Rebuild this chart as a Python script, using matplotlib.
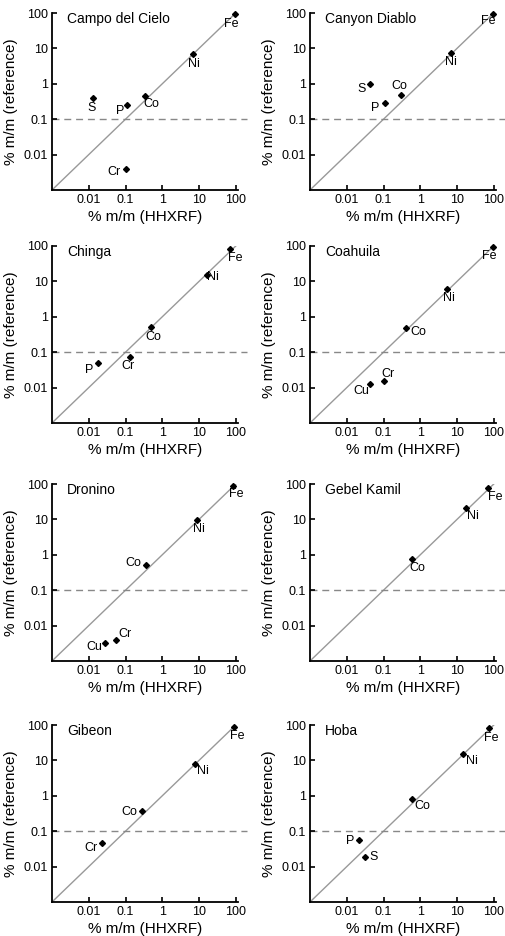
import numpy as np
import matplotlib.pyplot as plt

plt.rcParams['font.family'] = ['Liberation Sans', 'DejaVu Sans']

# meteorite names, in panel order (left to right, top to bottom)
names = ["Campo del Cielo", "Canyon Diablo", "Chinga", "Coahuila",
         "Dronino", "Gebel Kamil", "Gibeon", "Hoba"]

# elements, HHXRF values (x) and reference values (y), % m/m
campo_el = ["Fe", "Ni", "Co", "P", "S", "Cr"]
campo_x = [95, 7.0, 0.33, 0.11, 0.013, 0.10]
campo_y = [93, 7.0, 0.45, 0.26, 0.40, 0.0038]

canyon_el = ["Fe", "Ni", "Co", "P", "S"]
canyon_x = [93, 6.8, 0.30, 0.113, 0.043]
canyon_y = [93, 7.5, 0.47, 0.28, 1.0]

chinga_el = ["Fe", "Ni", "Co", "Cr", "P"]
chinga_x = [70, 17, 0.50, 0.13, 0.018]
chinga_y = [80, 15, 0.52, 0.075, 0.048]

coahuila_el = ["Fe", "Ni", "Co", "Cr", "Cu"]
coahuila_x = [93, 5.5, 0.42, 0.10, 0.044]
coahuila_y = [92, 6.0, 0.47, 0.015, 0.013]

dronino_el = ["Fe", "Ni", "Co", "Cr", "Cu"]
dronino_x = [85, 9.0, 0.37, 0.055, 0.028]
dronino_y = [88, 9.5, 0.53, 0.0038, 0.0033]

gebel_el = ["Fe", "Ni", "Co"]
gebel_x = [70, 18, 0.60]
gebel_y = [78, 21, 0.78]

gibeon_el = ["Fe", "Ni", "Co", "Cr"]
gibeon_x = [90, 7.8, 0.28, 0.023]
gibeon_y = [90, 8.0, 0.38, 0.045]

hoba_el = ["Fe", "Ni", "Co", "P", "S"]
hoba_x = [72, 14.5, 0.60, 0.022, 0.031]
hoba_y = [82, 15.5, 0.80, 0.055, 0.019]

tick_vals = [0.01, 0.1, 1, 10, 100]
tick_labels = ["0.01", "0.1", "1", "10", "100"]
threshold = 0.1

panels = [
    (campo_el, campo_x, campo_y),
    (canyon_el, canyon_x, canyon_y),
    (chinga_el, chinga_x, chinga_y),
    (coahuila_el, coahuila_x, coahuila_y),
    (dronino_el, dronino_x, dronino_y),
    (gebel_el, gebel_x, gebel_y),
    (gibeon_el, gibeon_x, gibeon_y),
    (hoba_el, hoba_x, hoba_y),
]

# label offsets (points) from each marker
label_offsets = [
    {"Fe": (-2.4, -7), "Ni": (0.7, -7), "Co": (5, -6), "P": (-5, -5), "S": (-1.2, -7.5), "Cr": (-8.5, -2)},
    {"Fe": (-2.9, -5), "Ni": (0, -6.5), "Co": (-1.2, 6.5), "P": (-7.2, -3), "S": (-6, -4)},
    {"Fe": (4, -6), "Ni": (4, -1.4), "Co": (1.2, -7), "Cr": (-1.5, -6.5), "P": (-6.5, -5)},
    {"Fe": (-2.2, -6.2), "Ni": (1, -6.2), "Co": (8.5, -2.9), "Cr": (2.9, 5.5), "Cu": (-6.5, -5)},
    {"Fe": (2.2, -6), "Ni": (1.2, -6), "Co": (-9.5, 1), "Cr": (6.5, 4.5), "Cu": (-8, -3)},
    {"Fe": (5.5, -6.5), "Ni": (5, -6), "Co": (4, -7)},
    {"Fe": (2.2, -7), "Ni": (5.5, -5), "Co": (-9, -1), "Cr": (-8, -3)},
    {"Fe": (2, -7), "Ni": (6.5, -5), "Co": (7.5, -5), "P": (-6.5, -0.5), "S": (6.5, 0)},
]

fig = plt.figure(figsize=(5.06, 9.36), dpi=100)

lefts = [52 / 506, 310 / 506]
tops = [13, 246, 484, 725]
w = 186 / 506
h = 177 / 936

for i, (el, xv, yv) in enumerate(panels):
    row, col = divmod(i, 2)
    ax = fig.add_axes([lefts[col], 1 - (tops[row] + 177) / 936, w, h])
    ax.set_xscale('log')
    ax.set_yscale('log')
    ax.set_xlim(0.001, 115)
    ax.set_ylim(0.001, 100)

    # 1:1 line and 0.1 % threshold
    ax.plot([0.001, 100], [0.001, 100], color='#999999', lw=1.0, zorder=1)
    ax.axhline(threshold, xmin=0, xmax=1.05, color='#888888', lw=1.0,
               ls=(0, (5, 3.5)), clip_on=False, zorder=1)

    ax.plot(xv, yv, ls='none', marker='D', ms=3.0, color='black',
            clip_on=False, zorder=3)
    for e, x, y in zip(el, xv, yv):
        dx, dy = label_offsets[i][e]
        ax.annotate(e, (x, y), xytext=(dx, dy), textcoords='offset points',
                    ha='center', va='center', fontsize=9)

    ax.text(0.08, 0.965, names[i], transform=ax.transAxes, fontsize=10,
            ha='left', va='center')

    ax.set_xticks(tick_vals)
    ax.set_xticklabels(tick_labels)
    ax.set_yticks(tick_vals)
    ax.set_yticklabels(tick_labels)
    ax.minorticks_off()
    ax.tick_params(direction='in', length=3.5, width=1.2, labelsize=9, pad=3)
    ax.spines['top'].set_visible(False)
    ax.spines['right'].set_visible(False)
    for s in ['left', 'bottom']:
        ax.spines[s].set_linewidth(1.3)
    ax.set_xlabel('% m/m (HHXRF)', fontsize=11, labelpad=3)
    ax.set_ylabel('% m/m (reference)', fontsize=11, labelpad=4)

fig.savefig('out.png', dpi=100)
